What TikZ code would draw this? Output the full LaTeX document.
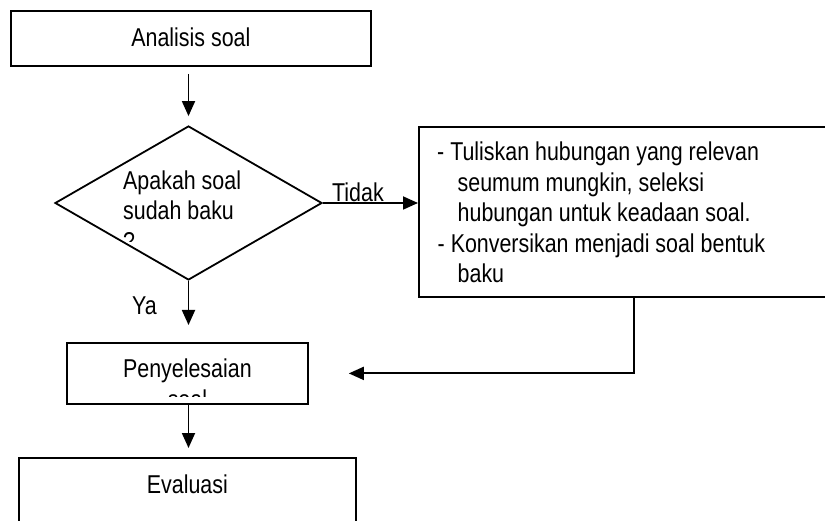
\documentclass[tikz,border=0pt]{standalone}
\usepackage{fontspec}
\setmainfont{Liberation Sans}[FakeStretch=0.83]
\usetikzlibrary{arrows.meta,shapes.geometric}
\tikzset{
  lw/.style={line width=1.8pt},
  box/.style={draw, lw, inner sep=0pt, align=center, font=\fontsize{25.8}{30.5}\selectfont},
  txt/.style={inner sep=0pt, font=\fontsize{25.8}{30.5}\selectfont},
  dia/.style={draw, lw, diamond, inner sep=0pt, aspect=1.7},
  arr/.style={lw, -{Triangle[length=15pt,width=13pt]}},
}
\begin{document}
\begin{tikzpicture}[x=1pt,y=-1pt]
\clip (0,0) rectangle (825,521);
\fill[white] (0,0) rectangle (825,521);

% top box
\node[box, anchor=north west, minimum width=360pt, text height=36pt, text depth=19pt] (ana) at (10,10) {Analisis soal};

% decision diamond
\node[dia, minimum width=267pt, minimum height=154pt] (dec) at (188.5,203) {};
\node[txt, anchor=base west] (d1) at (123,190) {Apakah soal};
\node[txt, anchor=base west] (d2) at (123,220) {sudah baku};
\begin{scope}
  \clip (100,225) rectangle (260,242);
  \node[txt, anchor=base west] (d3) at (123,251) {?};
\end{scope}

% right box
\node[draw, lw, anchor=north west, minimum width=430pt, minimum height=170pt, inner sep=0pt] (rbox) at (418,126) {};
\node[txt, anchor=base west] (r1) at (437,161) {- Tuliskan hubungan yang relevan};
\node[txt, anchor=base west] (r2) at (457.5,191.5) {seumum mungkin, seleksi};
\node[txt, anchor=base west] (r3) at (457.5,222) {hubungan untuk keadaan soal.};
\node[txt, anchor=base west] (r4) at (437.5,252.5) {- Konversikan menjadi soal bentuk};
\node[txt, anchor=base west] (r5) at (457.5,283) {baku};

% penyelesaian box
\node[box, anchor=north west, minimum width=241pt, text height=35pt, text depth=26pt] (pen) at (66,342) {Penyelesaian};
\begin{scope}
  \clip (70,380) rectangle (300,396);
  \node[txt, anchor=base] (pen2) at (pen.base |- 0,408) {soal};
\end{scope}

% evaluasi box
\node[box, anchor=north west, minimum width=337pt, text height=36pt, text depth=44pt] (eva) at (18,457) {Evaluasi};

% labels
\node[txt, anchor=base west] (tidak) at (332,202) {Tidak};
\node[txt, anchor=base west] (ya) at (132,315) {Ya};

% connectors
\coordinate (vx) at (188.5,0);
\coordinate (rx) at (634,0);
\draw[arr, shorten <=7pt, shorten >=9pt] (ana.south -| vx) -- (dec.north);
\draw[arr] (dec.east) -- (rbox.west |- dec.east);
\draw[arr, shorten >=17pt] (dec.south) -- (pen.north -| vx);
\draw[arr, shorten >=9pt] (pen.south -| vx) -- (eva.north -| vx);
\draw[arr, shorten >=40pt] (rbox.south -| rx) |- (pen.east);
\end{tikzpicture}
\end{document}
